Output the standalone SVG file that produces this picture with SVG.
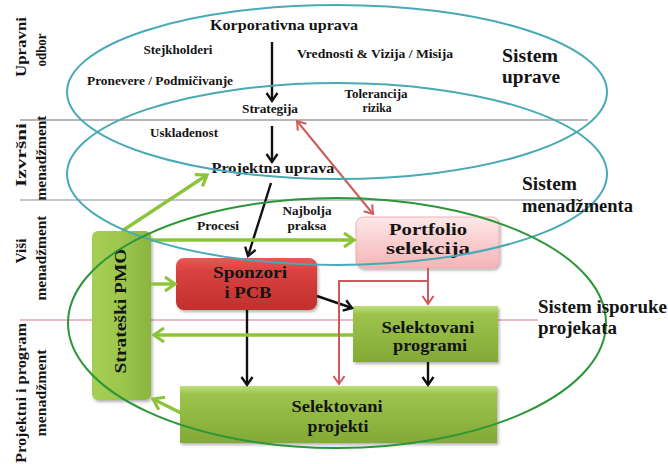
<svg xmlns="http://www.w3.org/2000/svg" width="668" height="464" viewBox="0 0 668 464">
  <defs>
    <style>
      text { font-family: "Liberation Serif", "Times New Roman", serif; font-weight: bold; fill: #141414; }
      .lvl { font-size: 15px; text-anchor: middle; }
      .sm { font-size: 12.5px; text-anchor: middle; }
      .md { font-size: 15.5px; text-anchor: middle; }
      .box { font-size: 17px; text-anchor: middle; }
      .sys { font-size: 18px; }
      .divider { fill: none; stroke-width: 1.3; }
      .sysring { fill: none; stroke-width: 2; }
      .blk { fill: none; stroke: #111; stroke-width: 2.4; marker-end: url(#ahBlack); }
      .grn { fill: none; stroke: #8cc43c; stroke-width: 3.4; marker-end: url(#ahGreen); }
      .red { fill: none; stroke: #cf5a5a; stroke-width: 2; }
    </style>
    <linearGradient id="gGreen" x1="0" y1="0" x2="0" y2="1">
      <stop offset="0" stop-color="#c0de7c"/>
      <stop offset="0.14" stop-color="#9cc44c"/>
      <stop offset="1" stop-color="#83a936"/>
    </linearGradient>
    <linearGradient id="gPmo" x1="0" y1="0" x2="1" y2="0">
      <stop offset="0" stop-color="#a5cf55"/>
      <stop offset="0.5" stop-color="#9cc64c"/>
      <stop offset="1" stop-color="#8ab53e"/>
    </linearGradient>
    <linearGradient id="gRed" x1="0" y1="0" x2="0" y2="1">
      <stop offset="0" stop-color="#e85a55"/>
      <stop offset="0.25" stop-color="#d94240"/>
      <stop offset="1" stop-color="#c0302c"/>
    </linearGradient>
    <linearGradient id="gPink" x1="0" y1="0" x2="0" y2="1">
      <stop offset="0" stop-color="#fde8e8"/>
      <stop offset="1" stop-color="#f5b4b6"/>
    </linearGradient>
    <filter id="shadow" x="-10%" y="-10%" width="125%" height="130%">
      <feDropShadow dx="1.5" dy="2" stdDeviation="1.5" flood-color="#000" flood-opacity="0.3"/>
    </filter>
    <marker id="ahBlack" markerUnits="userSpaceOnUse" markerWidth="20" markerHeight="20" refX="0" refY="0" orient="auto" viewBox="-12 -10 14 20" overflow="visible">
      <path d="M-8,-5.5 L0,0 L-8,5.5" fill="none" stroke="#111" stroke-width="2.4"/>
    </marker>
    <marker id="ahGreen" markerUnits="userSpaceOnUse" markerWidth="24" markerHeight="24" refX="0" refY="0" orient="auto" viewBox="-14 -12 16 24" overflow="visible">
      <path d="M-10,-7 L0,0 L-10,7" fill="none" stroke="#8cc43c" stroke-width="3.2"/>
    </marker>
    <marker id="ahRed" markerUnits="userSpaceOnUse" markerWidth="20" markerHeight="20" refX="0" refY="0" orient="auto-start-reverse" viewBox="-12 -10 14 20" overflow="visible">
      <path d="M-8,-5.5 L0,0 L-8,5.5" fill="none" stroke="#cf5a5a" stroke-width="2"/>
    </marker>
  </defs>

  <rect width="668" height="464" fill="#ffffff"/>

  <!-- level dividers -->
  <g id="dividers">
    <line class="divider" x1="20" y1="120" x2="588" y2="120" stroke="#9c9c9c"/>
    <line class="divider" x1="20" y1="200" x2="578" y2="200" stroke="#aab2ba"/>
    <line class="divider" x1="20" y1="320" x2="538" y2="320" stroke="#e3a6ae"/>
  </g>

  <!-- management levels -->
  <g id="levels">
    <text class="lvl" transform="translate(26,47) rotate(-90)" textLength="60" lengthAdjust="spacingAndGlyphs">Upravni</text>
    <text class="lvl" transform="translate(46,50) rotate(-90)" textLength="33" lengthAdjust="spacingAndGlyphs">odbor</text>
    <text class="lvl" transform="translate(26,155) rotate(-90)" textLength="64" lengthAdjust="spacingAndGlyphs">Izvršni</text>
    <text class="lvl" transform="translate(46,158) rotate(-90)" textLength="85" lengthAdjust="spacingAndGlyphs">menadžment</text>
    <text class="lvl" transform="translate(26,251) rotate(-90)" textLength="25" lengthAdjust="spacingAndGlyphs">Viši</text>
    <text class="lvl" transform="translate(46,258) rotate(-90)" textLength="85" lengthAdjust="spacingAndGlyphs">menadžment</text>
    <text class="lvl" transform="translate(26,393) rotate(-90)" textLength="140" lengthAdjust="spacingAndGlyphs">Projektni i program</text>
    <text class="lvl" transform="translate(46,393) rotate(-90)" textLength="87" lengthAdjust="spacingAndGlyphs">menadžment</text>
  </g>

  <!-- governance labels -->
  <g id="labels">
    <text class="md" x="284" y="30" textLength="148" lengthAdjust="spacingAndGlyphs">Korporativna uprava</text>
    <text class="sm" x="178" y="54" textLength="69" lengthAdjust="spacingAndGlyphs">Stejkholderi</text>
    <text class="sm" x="375" y="58" textLength="156" lengthAdjust="spacingAndGlyphs">Vrednosti &amp; Vizija / Misija</text>
    <text class="sm" x="160" y="85" textLength="146" lengthAdjust="spacingAndGlyphs">Pronevere / Podmičivanje</text>
    <text class="sm" x="270" y="113" textLength="56" lengthAdjust="spacingAndGlyphs">Strategija</text>
    <text class="sm" x="376" y="98" textLength="63" lengthAdjust="spacingAndGlyphs">Tolerancija</text>
    <text class="sm" x="377" y="112" textLength="29" lengthAdjust="spacingAndGlyphs">rizika</text>
    <text class="sm" x="184" y="137" textLength="68" lengthAdjust="spacingAndGlyphs">Usklađenost</text>
    <text class="md" x="273" y="173" textLength="123" lengthAdjust="spacingAndGlyphs">Projektna uprava</text>
    <text class="sm" x="218" y="230" textLength="42" lengthAdjust="spacingAndGlyphs">Procesi</text>
    <text class="sm" x="307" y="215" textLength="49" lengthAdjust="spacingAndGlyphs">Najbolja</text>
    <text class="sm" x="307" y="230" textLength="39" lengthAdjust="spacingAndGlyphs">praksa</text>
  </g>

  <!-- nodes -->
  <g id="node-pmo">
    <rect x="92" y="231" width="59" height="169" rx="6" fill="url(#gPmo)" filter="url(#shadow)"/>
    <text class="box" transform="translate(126,311) rotate(-90)" textLength="125" lengthAdjust="spacingAndGlyphs">Strateški PMO</text>
  </g>
  <g id="node-sponzori">
    <rect x="176" y="258" width="141" height="52" rx="8" fill="url(#gRed)" filter="url(#shadow)"/>
    <text class="box" x="250" y="278" textLength="74" lengthAdjust="spacingAndGlyphs">Sponzori</text>
    <text class="box" x="248" y="298" textLength="47" lengthAdjust="spacingAndGlyphs">i PCB</text>
  </g>
  <g id="node-portfolio">
    <rect x="356" y="217" width="143" height="51" rx="7" fill="url(#gPink)" stroke="#eaa4a8" stroke-width="0.8" filter="url(#shadow)"/>
    <text class="box" x="428" y="235" textLength="78" lengthAdjust="spacingAndGlyphs">Portfolio</text>
    <text class="box" x="428" y="254" textLength="84" lengthAdjust="spacingAndGlyphs">selekcija</text>
  </g>
  <g id="node-programi">
    <rect x="353" y="306" width="145" height="56" fill="url(#gGreen)" filter="url(#shadow)"/>
    <text class="box" x="428" y="333" textLength="93" lengthAdjust="spacingAndGlyphs">Selektovani</text>
    <text class="box" x="430" y="351" textLength="74" lengthAdjust="spacingAndGlyphs">programi</text>
  </g>
  <g id="node-projekti">
    <rect x="180" y="386" width="317" height="57" fill="url(#gGreen)" filter="url(#shadow)"/>
    <text class="box" x="337" y="412" textLength="91" lengthAdjust="spacingAndGlyphs">Selektovani</text>
    <text class="box" x="338" y="432" textLength="61" lengthAdjust="spacingAndGlyphs">projekti</text>
  </g>

  <!-- connectors -->
  <g id="connectors">
    <!-- governance chain -->
    <line class="blk" x1="272" y1="42" x2="272" y2="101"/>
    <line class="blk" x1="272" y1="126" x2="272" y2="162"/>
    <line class="blk" x1="271" y1="183" x2="248" y2="256"/>
    <line class="blk" x1="317" y1="296" x2="352" y2="308"/>
    <line class="blk" x1="247" y1="310" x2="247" y2="385"/>
    <line class="blk" x1="428" y1="362" x2="428" y2="385"/>
    <!-- PMO links -->
    <line class="grn" x1="122" y1="231" x2="207" y2="175"/>
    <line class="grn" x1="151" y1="240" x2="354" y2="240"/>
    <line class="grn" x1="151" y1="284" x2="175" y2="284"/>
    <line class="grn" x1="353" y1="335" x2="154" y2="335"/>
    <line class="grn" x1="181" y1="413" x2="153" y2="399"/>
    <!-- portfolio links -->
    <line class="red" x1="297" y1="121" x2="373" y2="214" marker-start="url(#ahRed)" marker-end="url(#ahRed)"/>
    <polyline class="red" points="428,268 428,304" marker-end="url(#ahRed)"/>
    <polyline class="red" points="428,281 339,281 339,384" marker-end="url(#ahRed)"/>
  </g>

  <!-- system boundaries -->
  <g id="systems">
    <ellipse class="sysring" cx="337" cy="92" rx="270" ry="87" stroke="#48aab5"/>
    <ellipse class="sysring" cx="337" cy="174" rx="270" ry="91" stroke="#48aab5"/>
    <ellipse class="sysring" cx="337" cy="323" rx="269" ry="125" stroke="#2c9638"/>
    <text class="sys" x="502" y="62" textLength="56" lengthAdjust="spacingAndGlyphs">Sistem</text>
    <text class="sys" x="502" y="83" textLength="58" lengthAdjust="spacingAndGlyphs">uprave</text>
    <text class="sys" x="522" y="190" textLength="55" lengthAdjust="spacingAndGlyphs">Sistem</text>
    <text class="sys" x="522" y="212" textLength="111" lengthAdjust="spacingAndGlyphs">menadžmenta</text>
    <text class="sys" x="538" y="313" textLength="129" lengthAdjust="spacingAndGlyphs">Sistem isporuke</text>
    <text class="sys" x="538" y="334" textLength="79" lengthAdjust="spacingAndGlyphs">projekata</text>
  </g>
</svg>
